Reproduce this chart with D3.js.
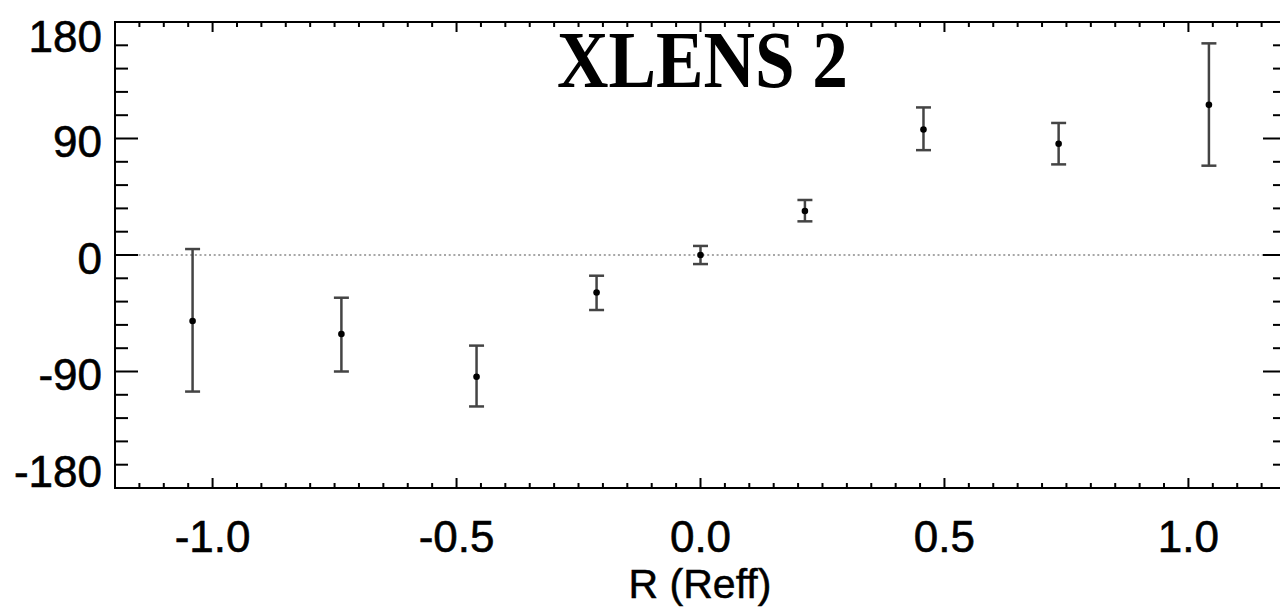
<!DOCTYPE html>
<html>
<head>
<meta charset="utf-8">
<script src="https://cdn.jsdelivr.net/npm/d3@7"></script>
<style>
html,body{margin:0;padding:0;background:#fff;overflow:hidden;}
svg{display:block;}
</style>
</head>
<body>
<svg id="chart" width="1280" height="609"></svg>
<script>
// ---- data ----
const radius = [-1.041, -0.736, -0.459, -0.213, 0.0, 0.214, 0.457, 0.734, 1.042];
const angle  = [-51, -61, -94, -29, 0, 34, 97, 86, 116];
const errLow = [-105.5, -90, -117, -42.5, -7, 26, 81, 70, 69];
const errHigh= [4.6, -33, -70, -16, 7, 42.5, 114, 102, 163.5];
const yTickLabels = [180, 90, 0, -90, -180];
const xTickLabels = [-1.0, -0.5, 0.0, 0.5, 1.0];
const titleText = "XLENS 2";
const xLabel = "R (Reff)";

const svg = d3.select("#chart");
const L = 115, R = 1286, T = 22, B = 488;
const x = d3.scaleLinear().domain([-1.2, 1.2]).range([L, R]);
const y = d3.scaleLinear().domain([-180, 180]).range([B, T]);

// zero dotted line
svg.append("line")
  .attr("x1", L).attr("x2", R).attr("y1", y(0)).attr("y2", y(0))
  .attr("stroke", "#8a8a8a").attr("stroke-width", 1.5)
  .attr("stroke-dasharray", "2,2.7");

// ticks
const g = svg.append("g").attr("stroke", "#000");
const xMinor = d3.range(-24, 25).map(i => i * 0.05);
xMinor.forEach(v => {
  const major = Math.abs(Math.round(v * 2) - v * 2) < 1e-6;
  const len = major ? 10 : 5;
  const px = x(v);
  if (px < L + 1 || px > R - 1) return;
  g.append("line").attr("x1", px).attr("x2", px).attr("y1", B).attr("y2", B - len).attr("stroke-width", 2);
  g.append("line").attr("x1", px).attr("x2", px).attr("y1", T).attr("y2", T + len).attr("stroke-width", 2);
});
const yMinor = d3.range(-10, 11).map(i => i * 18);
yMinor.forEach(v => {
  const major = v % 90 === 0;
  const len = major ? 23 : 13;
  const py = y(v);
  if (py < T + 1 || py > B - 1) return;
  g.append("line").attr("x1", L).attr("x2", L + len).attr("y1", py).attr("y2", py).attr("stroke-width", 2);
  g.append("line").attr("x1", R).attr("x2", R - len).attr("y1", py).attr("y2", py).attr("stroke-width", 2);
});

// frame
svg.append("rect").attr("x", L).attr("y", T).attr("width", R - L).attr("height", B - T)
  .attr("fill", "none").attr("stroke", "#000").attr("stroke-width", 2);

// error bars
const pts = svg.append("g");
radius.forEach((r, i) => {
  const px = x(r);
  pts.append("line").attr("x1", px).attr("x2", px).attr("y1", y(errLow[i])).attr("y2", y(errHigh[i]))
    .attr("stroke", "#444").attr("stroke-width", 2.5);
  [errLow[i], errHigh[i]].forEach(v => {
    pts.append("line").attr("x1", px - 7.5).attr("x2", px + 7.5).attr("y1", y(v)).attr("y2", y(v))
      .attr("stroke", "#444").attr("stroke-width", 2.5);
  });
  pts.append("circle").attr("cx", px).attr("cy", y(angle[i])).attr("r", 3.3).attr("fill", "#000");
});

// y tick labels
const font = "'Liberation Sans', Arial, Helvetica, sans-serif";
yTickLabels.forEach(v => {
  const cy = Math.min(Math.max(y(v) + 3, T + 14), B - 17);
  svg.append("text").attr("x", 102).attr("y", cy)
    .attr("text-anchor", "end").attr("dominant-baseline", "central")
    .attr("font-family", font).attr("font-size", 44).attr("fill", "#000")
    .attr("stroke", "#000").attr("stroke-width", 0.6)
    .text(String(v));
});
// x tick labels
xTickLabels.forEach(v => {
  svg.append("text").attr("x", x(v)).attr("y", 552)
    .attr("text-anchor", "middle")
    .attr("font-family", font).attr("font-size", 44).attr("fill", "#000")
    .attr("stroke", "#000").attr("stroke-width", 0.6)
    .text(v.toFixed(1));
});
// x axis label
svg.append("text").attr("x", 700).attr("y", 598).attr("text-anchor", "middle")
  .attr("font-family", font).attr("font-size", 41).attr("fill", "#000")
  .attr("stroke", "#000").attr("stroke-width", 0.5)
  .text(xLabel);

// title
svg.append("text").attr("x", 557).attr("y", 87)
  .attr("font-family", "'Liberation Serif', 'Times New Roman', serif")
  .attr("font-weight", "bold").attr("font-size", 80).attr("fill", "#000")
  .attr("textLength", 291).attr("lengthAdjust", "spacingAndGlyphs")
  .text(titleText);
</script>
</body>
</html>
